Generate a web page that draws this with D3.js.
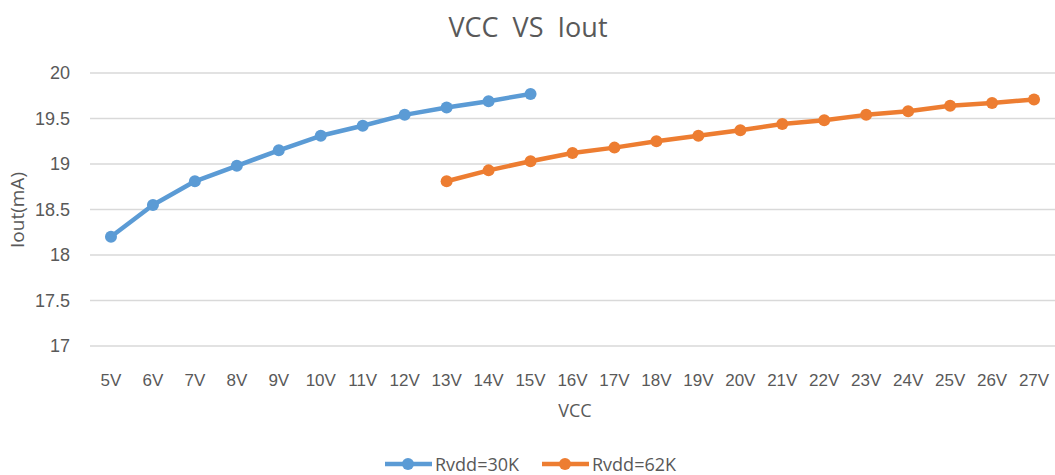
<!DOCTYPE html>
<html>
<head>
<meta charset="utf-8">
<script src="https://cdn.jsdelivr.net/npm/d3@7/dist/d3.min.js"></script>
<style>
  body { margin: 0; background: #fff; }
  svg { font-family: "Open Sans", "Noto Sans", sans-serif; }
</style>
</head>
<body>
<svg id="chart" width="1055" height="475"></svg>
<script>
// categories on the x axis
const vccLabels = ["5V","6V","7V","8V","9V","10V","11V","12V","13V","14V","15V","16V",
    "17V","18V","19V","20V","21V","22V","23V","24V","25V","26V","27V"];

// Rvdd=30K : 5V..15V
const vcc30k = ["5V","6V","7V","8V","9V","10V","11V","12V","13V","14V","15V"];
const iout30k = [18.20, 18.55, 18.81, 18.98, 19.15, 19.31, 19.42, 19.54, 19.62, 19.69, 19.77];

// Rvdd=62K : 13V..27V
const vcc62k = ["13V","14V","15V","16V","17V","18V","19V","20V","21V","22V","23V","24V","25V","26V","27V"];
const iout62k = [18.81, 18.93, 19.03, 19.12, 19.18, 19.25, 19.31, 19.37, 19.44, 19.48, 19.54, 19.58, 19.64, 19.67, 19.71];

const yTicks = [17, 17.5, 18, 18.5, 19, 19.5, 20];

const seriesNames = ["Rvdd=30K", "Rvdd=62K"];
const colors = ["#5B9BD5", "#ED7D31"];

const svg = d3.select('#chart');
const margin = { left: 90, right: 0, top: 73, bottom: 129 };
const W = 1055, H = 475;

const x = d3.scaleBand()
    .domain(vccLabels)
    .range([margin.left, W - margin.right]);

const y = d3.scaleLinear()
    .domain([17, 20])
    .range([H - margin.bottom, margin.top]);

// grid
svg.append('g')
    .selectAll('line')
    .data(yTicks)
    .enter()
    .append('line')
    .attr('x1', margin.left)
    .attr('x2', W - margin.right)
    .attr('y1', d => y(d))
    .attr('y2', d => y(d))
    .attr('stroke', '#d9d9d9')
    .attr('stroke-width', 1.3);

// y axis
const yAxis = svg.append('g')
    .attr('transform', `translate(${margin.left - 17},0)`)
    .call(d3.axisLeft(y).tickValues(yTicks).tickSize(0).tickFormat(d3.format('')));
yAxis.select('.domain').remove();
yAxis.selectAll('text')
    .attr('fill', '#595959')
    .style('font-size', '18px');

// x axis
const xAxis = svg.append('g')
    .attr('transform', `translate(0,${y(17) + 25})`)
    .call(d3.axisBottom(x).tickSize(0));
xAxis.select('.domain').remove();
xAxis.selectAll('text')
    .attr('fill', '#595959')
    .style('font-size', '17px');

// titles
svg.append('text')
    .attr('x', 528)
    .attr('y', 37)
    .attr('text-anchor', 'middle')
    .attr('fill', '#595959')
    .style('font-size', '27px')
    .style('white-space', 'pre')
    .text('VCC  VS  Iout');

svg.append('text')
    .attr('x', 575)
    .attr('y', 417)
    .attr('text-anchor', 'middle')
    .attr('fill', '#595959')
    .style('font-size', '18px')
    .text('VCC');

svg.append('text')
    .attr('transform', 'translate(24,210) rotate(-90)')
    .attr('text-anchor', 'middle')
    .attr('fill', '#595959')
    .style('font-size', '19px')
    .text('Iout(mA)');

// series
const series = [
    { name: seriesNames[0], color: colors[0], pts: vcc30k.map((v, i) => ({ v, val: iout30k[i] })) },
    { name: seriesNames[1], color: colors[1], pts: vcc62k.map((v, i) => ({ v, val: iout62k[i] })) }
];

const line = d3.line()
    .x(d => x(d.v) + x.bandwidth() / 2)
    .y(d => y(d.val));

const sg = svg.selectAll('.series')
    .data(series)
    .enter()
    .append('g')
    .attr('class', 'series');

sg.append('path')
    .attr('d', d => line(d.pts))
    .attr('fill', 'none')
    .attr('stroke', d => d.color)
    .attr('stroke-width', 4.5)
    .attr('stroke-linejoin', 'round');

sg.each(function(s) {
    d3.select(this).selectAll('circle')
        .data(s.pts)
        .enter()
        .append('circle')
        .attr('cx', d => x(d.v) + x.bandwidth() / 2)
        .attr('cy', d => y(d.val))
        .attr('r', 6)
        .attr('fill', s.color);
});

// legend
const legendX = [385, 542];
const lg = svg.selectAll('.legend')
    .data(series)
    .enter()
    .append('g')
    .attr('class', 'legend')
    .attr('transform', (d, i) => `translate(${legendX[i]},464)`);

lg.append('line')
    .attr('x1', 0).attr('x2', 47)
    .attr('stroke', d => d.color)
    .attr('stroke-width', 4.5);

lg.append('circle')
    .attr('cx', 23)
    .attr('r', 6)
    .attr('fill', d => d.color);

lg.append('text')
    .attr('x', 50)
    .attr('y', 6.5)
    .attr('fill', '#595959')
    .style('font-size', '18px')
    .text(d => d.name);
</script>
</body>
</html>
